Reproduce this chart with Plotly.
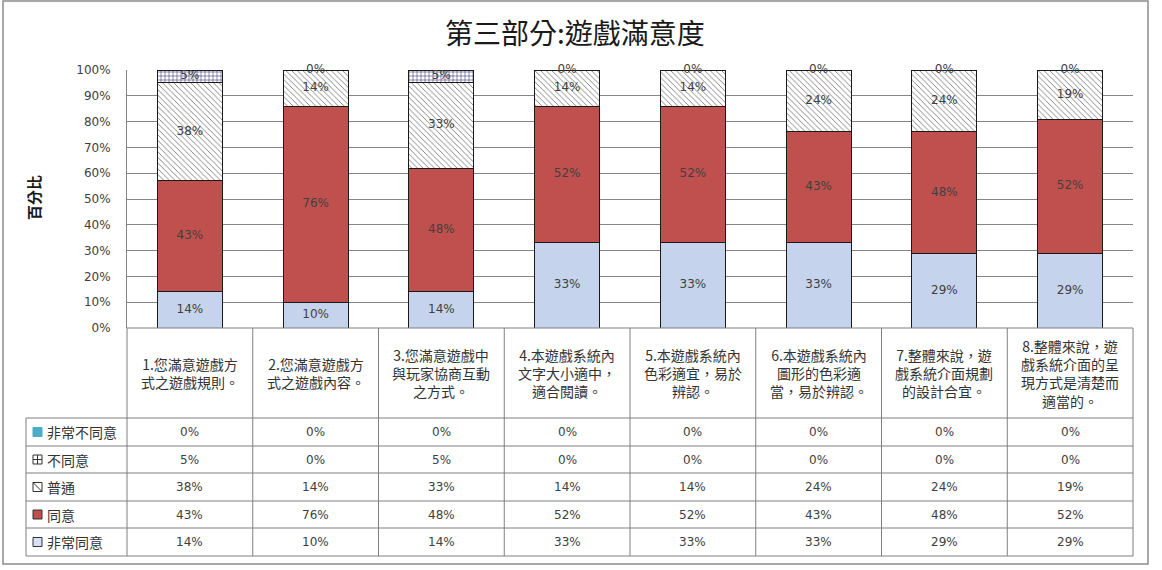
import numpy as np
import plotly.graph_objects as go

W, H = 1162, 570

categories = [
    "1.您滿意遊戲方<br>式之遊戲規則。",
    "2.您滿意遊戲方<br>式之遊戲內容。",
    "3.您滿意遊戲中<br>與玩家協商互動<br>之方式。",
    "4.本遊戲系統內<br>文字大小適中，<br>適合閱讀。",
    "5.本遊戲系統內<br>色彩適宜，易於<br>辨認。",
    "6.本遊戲系統內<br>圖形的色彩適<br>當，易於辨認。",
    "7.整體來說，遊<br>戲系統介面規劃<br>的設計合宜。",
    "8.整體來說，遊<br>戲系統介面的呈<br>現方式是清楚而<br>適當的。",
]

strongly_disagree = [0, 0, 0, 0, 0, 0, 0, 0]
disagree = [5, 0, 5, 0, 0, 0, 0, 0]
neutral = [38, 14, 33, 14, 14, 24, 24, 19]
agree = [43, 76, 48, 52, 52, 43, 48, 52]
strongly_agree = [14, 10, 14, 33, 33, 33, 29, 29]

series_names = ["非常同意", "同意", "普通", "不同意", "非常不同意"]  # bottom -> top
series_values = [strongly_agree, agree, neutral, disagree, strongly_disagree]

title_text = "第三部分:遊戲滿意度"
y_title = "百分比"

CJK = "Noto Sans CJK TC"
NUM = "DejaVu Sans"
TXT = "#404040"
GRID = "#868686"

def xp(x):
    return x / W

def yp(y):
    return 1 - y / H

# layout geometry (pixels)
PL, PR, PT, PB = 127, 1133, 70, 328
TL = 26
row_edges = [418, 446, 473, 501, 528, 556]

styles = [
    dict(marker=dict(color="#C5D4EC", line=dict(color="#1a1a1a", width=1))),
    dict(marker=dict(color="#C0504D", line=dict(color="#1a1a1a", width=1))),
    dict(marker=dict(color="white", line=dict(color="#1a1a1a", width=1),
                     pattern=dict(shape="\\", fgcolor="#6a6a6a", bgcolor="white", size=4, solidity=0.2))),
    dict(marker=dict(color="white", line=dict(color="#1a1a1a", width=1),
                     pattern=dict(shape="+", fgcolor="#2a2a6a", bgcolor="white", size=4, solidity=0.25))),
    dict(marker=dict(color="#4BACC6", line=dict(color="#1a1a1a", width=1))),
]

fig = go.Figure()
for name, vals, st in zip(series_names, series_values, styles):
    fig.add_trace(go.Bar(x=categories, y=vals, name=name, showlegend=False,
                         hoverinfo="x+y+name", **st))

# data labels (segment centres; zero segments at the stack top)
arr = np.array(series_values, dtype=float)
tot = arr.sum(axis=0)
cum = np.cumsum(arr, axis=0) / tot * 100
lab_x, lab_y, lab_t = [], [], []
for i in range(arr.shape[0]):
    for j in range(arr.shape[1]):
        v = arr[i, j]
        if v > 0:
            lo = cum[i - 1, j] if i > 0 else 0
            lab_x.append(categories[j]); lab_y.append((lo + cum[i, j]) / 2)
            lab_t.append(f"{int(v)}%")
        elif i == 3:  # 不同意 zero -> label at top
            lab_x.append(categories[j]); lab_y.append(cum[i, j])
            lab_t.append(f"{int(v)}%")
fig.add_trace(go.Scatter(x=lab_x, y=lab_y, text=lab_t, mode="text", showlegend=False,
                         textfont=dict(family=NUM, size=12, color=TXT), hoverinfo="skip",
                         cliponaxis=False))

fig.update_layout(
    template="none",
    width=W, height=H, margin=dict(l=0, r=0, t=0, b=0, pad=0, autoexpand=False),
    paper_bgcolor="white", plot_bgcolor="white",
    barmode="stack", barnorm="percent", bargap=0.483,
    xaxis=dict(domain=[xp(PL), xp(PR)], showticklabels=False, ticks="", showgrid=False,
               zeroline=False, showline=False, automargin=False),
    yaxis=dict(domain=[yp(PB), yp(PT)], range=[0, 100], dtick=10, ticksuffix="%",
               showgrid=True, gridcolor=GRID, gridwidth=1, zeroline=False, automargin=False,
               showline=True, linecolor=GRID, linewidth=1, ticks="", ticklabelstandoff=13,
               tickfont=dict(family=NUM, size=12, color=TXT)),
    font=dict(family=CJK),
)

shapes = []
LC = "#7f7f7f"
# outer frame
shapes.append(dict(type="rect", xref="paper", yref="paper", x0=xp(3), x1=xp(1148), y0=yp(564), y1=yp(1),
                   line=dict(color="#8c8c8c", width=1.5)))
# table horizontal lines
shapes.append(dict(type="line", xref="paper", yref="paper", x0=xp(PL), x1=xp(PR), y0=yp(PB), y1=yp(PB),
                   line=dict(color=LC, width=1)))
for r in row_edges:
    shapes.append(dict(type="line", xref="paper", yref="paper", x0=xp(TL), x1=xp(PR), y0=yp(r), y1=yp(r),
                       line=dict(color=LC, width=1)))
# vertical lines
cw = (PR - PL) / len(categories)
col_edges = [PL + k * cw for k in range(len(categories) + 1)]
for k, cx in enumerate(col_edges):
    shapes.append(dict(type="line", xref="paper", yref="paper", x0=xp(cx), x1=xp(cx), y0=yp(PB), y1=yp(row_edges[-1]),
                       line=dict(color=LC, width=1)))
shapes.append(dict(type="line", xref="paper", yref="paper", x0=xp(TL), x1=xp(TL), y0=yp(row_edges[0]), y1=yp(row_edges[-1]),
                   line=dict(color=LC, width=1)))

annotations = []
annotations.append(dict(text=title_text, xref="paper", yref="paper", x=xp(575), y=yp(32), showarrow=False,
                        font=dict(family=CJK, size=28, color="#1a1a1a"), xanchor="center", yanchor="middle"))
annotations.append(dict(text=f"<b>{y_title}</b>", xref="paper", yref="paper", x=xp(34), y=yp(198), showarrow=False,
                        textangle=-90, font=dict(family=CJK, size=15, color="#1a1a1a"),
                        xanchor="center", yanchor="middle"))
# header row
for k, c in enumerate(categories):
    cx = (col_edges[k] + col_edges[k + 1]) / 2
    annotations.append(dict(text=c, xref="paper", yref="paper", x=xp(cx), y=yp((PB + row_edges[0]) / 2),
                            showarrow=False, font=dict(family=CJK, size=14, color="#333333"),
                            xanchor="center", yanchor="middle", align="center"))

# table rows: top -> bottom
table_names = series_names[::-1]
table_values = series_values[::-1]
key_fill = ["#4BACC6", "white", "white", "#C0504D", "#D6E0F2"]
key_line = [None, "#333333", "#333333", "#333333", "#333333"]
for r, (nm, vals) in enumerate(zip(table_names, table_values)):
    ytop, ybot = row_edges[r], row_edges[r + 1]
    cy = (ytop + ybot) / 2
    annotations.append(dict(text=nm, xref="paper", yref="paper", x=xp(45), y=yp(cy), showarrow=False,
                            font=dict(family=CJK, size=14, color="#333333"), xanchor="left", yanchor="middle"))
    for k, v in enumerate(vals):
        cx = (col_edges[k] + col_edges[k + 1]) / 2
        annotations.append(dict(text=f"{v}%", xref="paper", yref="paper", x=xp(cx), y=yp(cy), showarrow=False,
                                font=dict(family=NUM, size=12, color=TXT), xanchor="center", yanchor="middle"))
    # legend key
    kx0, kx1 = 33, 42
    ky0, ky1 = cy - 4.5, cy + 4.5
    shapes.append(dict(type="rect", xref="paper", yref="paper", x0=xp(kx0), x1=xp(kx1), y0=yp(ky1), y1=yp(ky0),
                       fillcolor=key_fill[r],
                       line=dict(color=key_line[r] or key_fill[r], width=1)))
    if nm == "不同意":
        mx, my = (kx0 + kx1) / 2, cy
        shapes.append(dict(type="line", xref="paper", yref="paper", x0=xp(mx), x1=xp(mx), y0=yp(ky0), y1=yp(ky1),
                           line=dict(color="#333333", width=1)))
        shapes.append(dict(type="line", xref="paper", yref="paper", x0=xp(kx0), x1=xp(kx1), y0=yp(my), y1=yp(my),
                           line=dict(color="#333333", width=1)))
    if nm == "普通":
        shapes.append(dict(type="line", xref="paper", yref="paper", x0=xp(kx0), x1=xp(kx1), y0=yp(ky0), y1=yp(ky1),
                           line=dict(color="#333333", width=1)))

fig.update_layout(shapes=shapes, annotations=annotations)
fig.write_html("out.html")
